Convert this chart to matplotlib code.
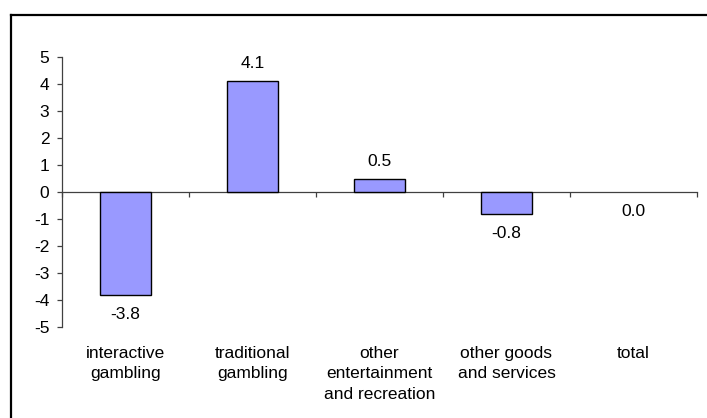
import matplotlib
matplotlib.use("Agg")
import matplotlib.pyplot as plt
from matplotlib.lines import Line2D
import matplotlib.transforms as mtransforms

categories = ["interactive\ngambling", "traditional\ngambling",
              "other\nentertainment\nand recreation", "other goods\nand services", "total"]
values = [-3.8, 4.1, 0.5, -0.8, 0.0]
labels = ["-3.8", "4.1", "0.5", "-0.8", "0.0"]

plt.rcParams['font.family'] = ['Liberation Sans', 'DejaVu Sans']
plt.rcParams['font.size'] = 12.5
plt.rcParams['axes.unicode_minus'] = False

fig = plt.figure(figsize=(7.07, 4.18), dpi=100)
ax = fig.add_axes([62 / 707, 91 / 418, 635 / 707, 270 / 418])

x = list(range(len(values)))
edges = ['black' if v != 0 else 'none' for v in values]
ax.bar(x, values, width=0.4, color='#9999ff', edgecolor=edges, linewidth=1.0, zorder=3)

ax.set_xlim(-0.5, len(values) - 0.5)
ax.set_ylim(-5, 5)
ax.set_yticks(range(-5, 6))

axis_col = '#404040'
for s in ['top', 'right']:
    ax.spines[s].set_visible(False)
ax.spines['bottom'].set_position(('data', 0))
ax.spines['bottom'].set_color(axis_col)
ax.spines['left'].set_color(axis_col)
ax.spines['bottom'].set_linewidth(0.9)
ax.spines['left'].set_linewidth(0.9)

ax.set_xticks([i - 0.5 for i in range(len(values) + 1)])
ax.set_xticklabels([])
ax.tick_params(axis='x', direction='out', length=3.6, width=0.9, color=axis_col)
ax.tick_params(axis='y', direction='out', length=3.6, width=0.9, color=axis_col,
               pad=5.5, labelsize=12.5)

# value labels
for xi, v, lab in zip(x, values, labels):
    if v > 0:
        off = mtransforms.offset_copy(ax.transData, fig=fig, x=0, y=13, units='dots')
        ax.text(xi, v, lab, ha='center', va='baseline', transform=off)
    else:
        off = mtransforms.offset_copy(ax.transData, fig=fig, x=0, y=-12, units='dots')
        ax.text(xi, v, lab, ha='center', va='top', transform=off)

# category labels below the plot area
trans = mtransforms.blended_transform_factory(ax.transData, ax.transAxes)
trans = mtransforms.offset_copy(trans, fig=fig, x=0, y=-19, units='dots')
for xi, c in zip(x, categories):
    ax.text(xi, 0, c, ha='center', va='top', multialignment='center',
            transform=trans, linespacing=1.45)

# chart border (clipped at right and bottom)
W, H = 707, 418
fig.add_artist(Line2D([11 / W, 1.01], [1 - 15 / H, 1 - 15 / H], color='black', lw=1.6,
                      transform=fig.transFigure))
fig.add_artist(Line2D([11 / W, 11 / W], [1 - 15 / H, -0.01], color='black', lw=1.6,
                      transform=fig.transFigure))

fig.savefig("out.png", dpi=100)
